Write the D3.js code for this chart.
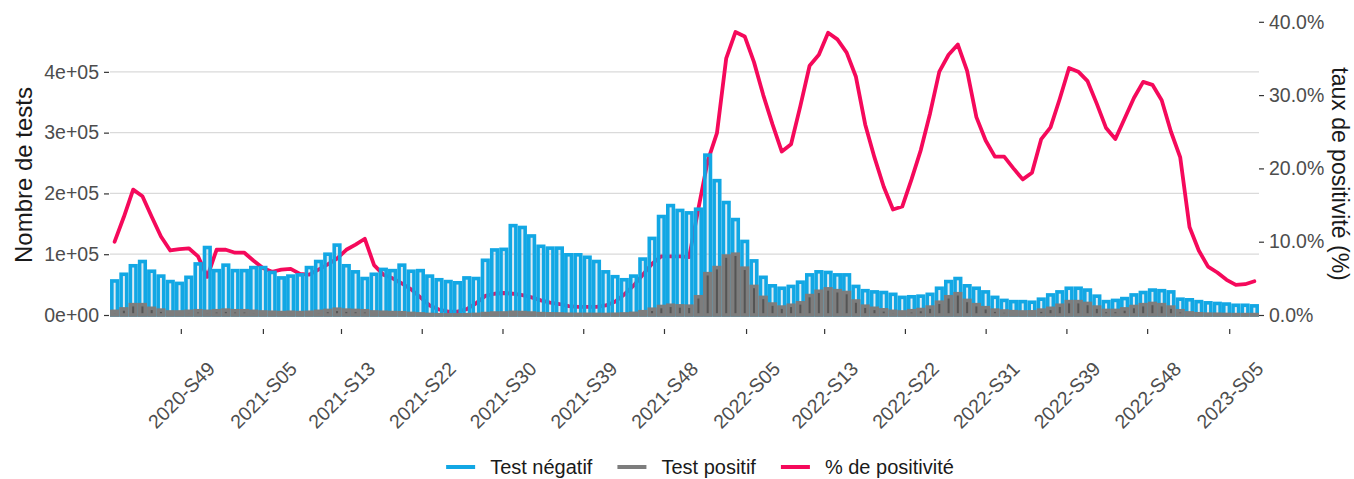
<!DOCTYPE html>
<html><head><meta charset="utf-8">
<script src="https://cdn.jsdelivr.net/npm/d3@7"></script>
<style>
body{margin:0;background:#fff;}
svg{display:block;font-family:"Liberation Sans",Arial,Helvetica,sans-serif;}
</style></head><body>
<svg id="chart" width="1354" height="479"></svg>
<script>
// ---- categories (ISO weeks) ----
const weeks = [
"2020-S42","2020-S43","2020-S44","2020-S45","2020-S46","2020-S47","2020-S48","2020-S49","2020-S50","2020-S51","2020-S52","2020-S53",
"2021-S01","2021-S02","2021-S03","2021-S04","2021-S05","2021-S06","2021-S07","2021-S08","2021-S09","2021-S10","2021-S11","2021-S12","2021-S13",
"2021-S14","2021-S15","2021-S16","2021-S17","2021-S18","2021-S19","2021-S20","2021-S21","2021-S22","2021-S23","2021-S24","2021-S25","2021-S26",
"2021-S27","2021-S28","2021-S29","2021-S30","2021-S31","2021-S32","2021-S33","2021-S34","2021-S35","2021-S36","2021-S37","2021-S38","2021-S39",
"2021-S40","2021-S41","2021-S42","2021-S43","2021-S44","2021-S45","2021-S46","2021-S47","2021-S48","2021-S49","2021-S50","2021-S51","2021-S52",
"2022-S01","2022-S02","2022-S03","2022-S04","2022-S05","2022-S06","2022-S07","2022-S08","2022-S09","2022-S10","2022-S11","2022-S12","2022-S13",
"2022-S14","2022-S15","2022-S16","2022-S17","2022-S18","2022-S19","2022-S20","2022-S21","2022-S22","2022-S23","2022-S24","2022-S25","2022-S26",
"2022-S27","2022-S28","2022-S29","2022-S30","2022-S31","2022-S32","2022-S33","2022-S34","2022-S35","2022-S36","2022-S37","2022-S38","2022-S39",
"2022-S40","2022-S41","2022-S42","2022-S43","2022-S44","2022-S45","2022-S46","2022-S47","2022-S48","2022-S49","2022-S50","2022-S51","2022-S52",
"2023-S01","2023-S02","2023-S03","2023-S04","2023-S05","2023-S06","2023-S07","2023-S08"
];
// ---- series: tests négatifs (milliers) ----
const testNegatif = [
56,67,81,88,72,64,55,52,62,84,111,73,82,73,73,78,78,70,61,64,66,78,88,100,115,
81,71,60,67,75,73,82,72,73,64,58,55,53,61,60,90,107,108,147,144,130,113,110,
110,99,99,95,88,71,63,58,64,92,126,162,180,172,168,174,263,221,185,157,121,89,62,48,44,47,54,
66,71,70,66,66,47,40,38,37,34,29,30,31,34,44,55,60,48,44,38,29,24,22,22,21,
26,33,38,44,44,41,31,22,24,27,33,37,41,40,38,26,25,22,20,19,18,16,16,15
];
// ---- series: tests positifs (milliers) ----
const testPositif = [
6,10,17,17,11,8,5,5,6,7,6,7,8,7,7,6,5,4.5,4,4.5,4,4.5,6,7.5,9.5,
8,7.5,7,5,4.5,4,3.7,2.6,1.8,0.9,0.45,0.25,0.25,0.5,1,2.4,3.2,3.3,4.4,4,3.2,2.3,1.9,
1.7,1.2,1.1,1.1,1,0.9,1.2,1.7,2.7,5.4,9.5,14,16,15,14.5,30,68,78,97,100,77,47,29,18,13,16,20,
32,39,43,40,37,23,14.5,11,8.5,6,5,7,9,13,21,30,35,24,17,12,8,6.5,5.5,5,5.2,
8,11,16,22,22,19,13,7.5,7.5,10,14,17,19,17,13,7,3.4,2,1.4,1.2,0.9,0.7,0.7,0.7
];
// ---- series: % de positivité ----
const positivite = [
10.0,13.4,17.1,16.2,13.4,10.7,8.8,9.0,9.1,8.0,5.2,8.9,8.9,8.5,8.5,7.4,6.4,5.9,6.2,6.3,5.6,5.5,6.2,6.9,7.7,
8.9,9.6,10.4,6.8,5.5,5.0,4.3,3.5,2.4,1.3,0.75,0.45,0.45,0.8,1.6,2.6,2.9,3.0,2.9,2.7,2.4,2.0,1.7,
1.5,1.2,1.1,1.1,1.1,1.3,1.8,2.8,4.0,5.5,7.0,8.0,8.0,8.0,7.9,14.5,21.0,24.8,35.0,38.6,38.0,34.5,30.0,26.0,22.3,23.3,28.5,
34.0,35.5,38.5,37.6,35.8,32.5,26.0,21.5,17.5,14.4,14.8,18.5,22.5,27.5,33.2,35.5,36.9,33.3,27.0,23.8,21.6,21.6,20.0,18.5,19.4,
24.0,25.6,29.5,33.7,33.2,31.9,28.8,25.5,24.0,26.8,29.6,31.8,31.4,29.3,25.0,21.5,12.0,8.8,6.6,5.8,4.8,4.1,4.2,4.6
];
// ---- axis ticks ----
const xTickDates = ["2020-12-01","2021-02-01","2021-04-01","2021-06-01","2021-08-01","2021-10-01","2021-12-01",
                    "2022-02-01","2022-04-01","2022-06-01","2022-08-01","2022-10-01","2022-12-01","2023-02-01"];
const xTickLabels = ["2020-S49","2021-S05","2021-S13","2021-S22","2021-S30","2021-S39","2021-S48",
                     "2022-S05","2022-S13","2022-S22","2022-S31","2022-S39","2022-S48","2023-S05"];
const yLeftTicks = [0,100000,200000,300000,400000];
const yLeftLabels = ["0e+00","1e+05","2e+05","3e+05","4e+05"];
const yRightTicks = [0,10,20,30,40];
const yRightLabels = ["0.0%","10.0%","20.0%","30.0%","40.0%"];
const legendItems = ["Test négatif","Test positif","% de positivité"];

// ---- helpers ----
const DAY = 864e5;
function isoMonday(label){
  const Y = +label.slice(0,4), W = +label.slice(6);
  const jan4 = Date.UTC(Y,0,4);
  const dow = (new Date(jan4).getUTCDay()+6)%7;
  return new Date(jan4 - dow*DAY + (W-1)*7*DAY);
}
const data = weeks.map((w,i)=>({week:w, date:isoMonday(w), neg:testNegatif[i]*1000, pos:testPositif[i]*1000, p:positivite[i]}));

const C = {blue:"#12a7e4", gray:"#7d7d7d", pink:"#f5095b", grid:"#dadada", text:"#4d4d4d", title:"#1a1a1a", tick:"#333"};
const panel = {left:110, right:1259, base:315};

const svg = d3.select("#chart");
const x = d3.scaleUtc()
  .domain([new Date(+data[0].date - 3.5*DAY), new Date(+data[data.length-1].date + 3.5*DAY)])
  .range([panel.left, panel.right]);
const yL = d3.scaleLinear().domain([0,482000]).range([panel.base, 22]);
const yR = d3.scaleLinear().domain([0,40]).range([panel.base, 21.8]);

// gridlines
svg.append("g").selectAll("line").data(yLeftTicks).join("line")
  .attr("x1",panel.left).attr("x2",panel.right)
  .attr("y1",d=>yL(d)).attr("y2",d=>yL(d))
  .attr("stroke",C.grid).attr("stroke-width",1.2);

// positivity line (drawn below the bars)
const line = d3.line().x(d=>x(d.date)).y(d=>yR(d.p)).curve(d3.curveLinear);
svg.append("path").datum(data).attr("d",line)
  .attr("fill","none").attr("stroke",C.pink).attr("stroke-width",3.8)
  .attr("stroke-linejoin","round").attr("stroke-linecap","round");

// bars
const bw = 5.6, sw = 3.6;
svg.append("g").selectAll("rect").data(data).join("rect")
  .attr("x",d=>x(d.date)-bw/2).attr("width",bw)
  .attr("y",d=>yL(d.neg)).attr("height",d=>yL(0)-yL(d.neg))
  .attr("fill","rgba(60,140,190,0.18)").attr("stroke",C.blue).attr("stroke-width",sw);
svg.append("g").selectAll("rect").data(data).join("rect")
  .attr("x",d=>x(d.date)-bw/2).attr("width",bw)
  .attr("y",d=>yL(d.pos)).attr("height",d=>yL(0)-yL(d.pos))
  .attr("fill","#555").attr("stroke",C.gray).attr("stroke-width",sw);

// left axis
const axL = svg.append("g").attr("transform",`translate(${panel.left-1},0)`)
  .call(d3.axisLeft(yL).tickValues(yLeftTicks).tickFormat((d,i)=>yLeftLabels[i]).tickSize(5).tickPadding(5));
axL.select(".domain").remove();
axL.selectAll(".tick line").attr("stroke",C.tick).attr("stroke-width",1.2);
axL.selectAll(".tick text").attr("fill",C.text).attr("font-size","19.5px").attr("font-family","Liberation Sans, Arial, sans-serif");

// right axis
const axR = svg.append("g").attr("transform",`translate(${panel.right},0)`)
  .call(d3.axisRight(yR).tickValues(yRightTicks).tickFormat((d,i)=>yRightLabels[i]).tickSize(5).tickPadding(5));
axR.select(".domain").remove();
axR.selectAll(".tick line").attr("stroke",C.tick).attr("stroke-width",1.2);
axR.selectAll(".tick text").attr("fill",C.text).attr("font-size","19.5px").attr("font-family","Liberation Sans, Arial, sans-serif");

// bottom axis
const tickDates = xTickDates.map(s=>new Date(s+"T00:00:00Z"));
const axB = svg.append("g").attr("transform",`translate(0,329)`)
  .call(d3.axisBottom(x).tickValues(tickDates).tickFormat((d,i)=>xTickLabels[i]).tickSize(5));
axB.select(".domain").remove();
axB.selectAll(".tick line").attr("stroke",C.tick).attr("stroke-width",1.2);
axB.selectAll(".tick text")
  .attr("fill",C.text).attr("font-size","19.5px").attr("font-family","Liberation Sans, Arial, sans-serif")
  .attr("text-anchor","middle").attr("dy",null).attr("y",null)
  .attr("dominant-baseline","central")
  .attr("transform","translate(0,66) rotate(-45)");

// axis titles
svg.append("text").attr("transform","translate(23,175) rotate(-90)")
  .attr("text-anchor","middle").attr("dominant-baseline","central")
  .attr("font-size","24px").attr("fill",C.title).text("Nombre de tests");
svg.append("text").attr("transform","translate(1340,174) rotate(90)")
  .attr("text-anchor","middle").attr("dominant-baseline","central")
  .attr("font-size","23px").attr("fill",C.title).text("taux de positivité (%)");

// legend
const legColors = [C.blue, C.gray, C.pink];
const lg = svg.append("g");
let cx = 0;
legendItems.forEach((t,i)=>{
  const g = lg.append("g");
  g.append("line").attr("x1",0).attr("x2",29).attr("y1",0).attr("y2",0)
    .attr("stroke",legColors[i]).attr("stroke-width",4);
  const tx = g.append("text").attr("x",44).attr("y",0).attr("dominant-baseline","central")
    .attr("font-size","20px").attr("fill",C.title).text(t);
  const w = 44 + tx.node().getComputedTextLength();
  g.attr("transform",`translate(${cx},467)`);
  cx += w + 25;
});
const totalW = cx - 25;
lg.attr("transform",`translate(${700 - totalW/2},0)`);
</script>
</body></html>
